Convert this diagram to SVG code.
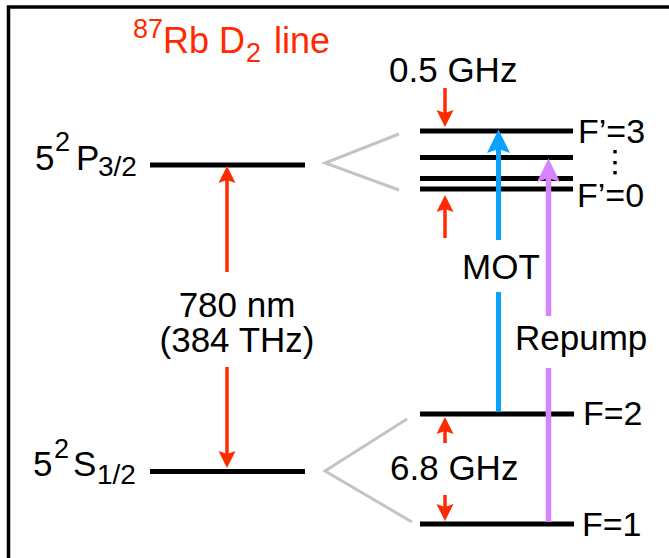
<svg xmlns="http://www.w3.org/2000/svg" width="669" height="558" viewBox="0 0 669 558">
<style>
text{font-family:"Liberation Sans",Arial,Helvetica,sans-serif;font-size:35px;fill:#000}
.red{fill:#FF2A00}
.lvl{stroke:#000;stroke-width:5;fill:none}
.gray{stroke:#C4C4C4;stroke-width:3;fill:none}
.ra{stroke:#FF2A00;stroke-width:3.5;fill:none}
.ba{stroke:#0AA2FF;stroke-width:5;fill:none}
.pa{stroke:#D784FF;stroke-width:5.5;fill:none}
.s{font-size:27px}
.sb{font-size:28px}
</style>
<defs>
<marker id="mr" markerUnits="userSpaceOnUse" viewBox="-1 -10 22 20" refX="3" refY="0" markerWidth="22" markerHeight="20" orient="auto" overflow="visible">
<path d="M0,-8.5 L17,0 L0,8.5 L3,0 Z" fill="#FF2A00"/>
</marker>
<marker id="mb" markerUnits="userSpaceOnUse" viewBox="-1 -13 28 26" refX="4" refY="0" markerWidth="28" markerHeight="26" orient="auto" overflow="visible">
<path d="M0,-11.5 L23.5,0 L0,11.5 L4,0 Z" fill="#0AA2FF"/>
</marker>
<marker id="mp" markerUnits="userSpaceOnUse" viewBox="-1 -13 28 26" refX="4" refY="0" markerWidth="28" markerHeight="26" orient="auto" overflow="visible">
<path d="M0,-11.5 L23.5,0 L0,11.5 L4,0 Z" fill="#D784FF"/>
</marker>
</defs>
<rect x="8.5" y="7" width="720" height="620" fill="none" stroke="#000" stroke-width="3.5"/>
<g id="title">
<text class="red" style="font-size:36px"><tspan x="133" y="38" class="s red">87</tspan><tspan x="163" y="53">Rb D</tspan><tspan x="246" y="62" class="s red">2</tspan><tspan x="274" y="53">line</tspan></text>
</g>
<g id="P32">
<line class="lvl" x1="150" y1="165" x2="305" y2="165"/>
<text><tspan x="35" y="170">5</tspan><tspan x="55" y="151" class="s">2</tspan><tspan x="76" y="170">P</tspan><tspan x="98" y="176" class="sb">3/2</tspan></text>
</g>
<g id="S12">
<line class="lvl" x1="150" y1="471.5" x2="305" y2="471.5"/>
<text><tspan x="33" y="476">5</tspan><tspan x="54" y="458" class="s">2</tspan><tspan x="73" y="476">S</tspan><tspan x="97" y="484" class="sb">1/2</tspan></text>
</g>
<g id="split">
<polyline class="gray" points="399,134 325,163 399,190"/>
<polyline class="gray" points="407,419 325,471 412,522"/>
</g>
<g id="Fp3">
<line class="lvl" x1="420" y1="131" x2="573" y2="131"/>
<text x="578" y="143" style="font-size:34px">F’=3</text>
</g>
<g id="Fp2"><line class="lvl" x1="420" y1="157.5" x2="573" y2="157.5"/></g>
<g id="Fp1"><line class="lvl" x1="420" y1="178.5" x2="573" y2="178.5"/></g>
<g id="Fp0">
<line class="lvl" x1="420" y1="189" x2="573" y2="189"/>
<text x="577" y="207" style="font-size:34px">F’=0</text>
</g>
<g id="dots">
<rect x="613.3" y="150" width="3.4" height="3.4"/>
<rect x="613.3" y="161" width="3.4" height="3.4"/>
<rect x="613.3" y="171" width="3.4" height="3.4"/>
</g>
<g id="F2">
<line class="lvl" x1="420" y1="414" x2="574" y2="414"/>
<text x="583" y="425" style="font-size:34px">F=2</text>
</g>
<g id="F1">
<line class="lvl" x1="420" y1="524" x2="574" y2="524"/>
<text x="582" y="536" style="font-size:34px">F=1</text>
</g>
<g id="connectors">
<line class="ra" x1="227" y1="272" x2="227" y2="180" marker-end="url(#mr)"/>
<line class="ra" x1="227" y1="367" x2="227" y2="454" marker-end="url(#mr)"/>
<line class="ra" x1="445" y1="88" x2="445" y2="113" marker-end="url(#mr)"/>
<line class="ra" x1="445" y1="238" x2="445" y2="209" marker-end="url(#mr)"/>
<line class="ra" x1="445" y1="443" x2="445" y2="431" marker-end="url(#mr)"/>
<line class="ra" x1="445" y1="495" x2="445" y2="507" marker-end="url(#mr)"/>
<line class="ba" x1="498.5" y1="240" x2="498.5" y2="149" marker-end="url(#mb)"/>
<line class="ba" x1="498.5" y1="292" x2="498.5" y2="412"/>
<line class="pa" x1="548.5" y1="316" x2="548.5" y2="178" marker-end="url(#mp)"/>
<line class="pa" x1="548.5" y1="368" x2="548.5" y2="522"/>
</g>
<g id="labels">
<text text-anchor="middle"><tspan x="237" y="317">780 nm</tspan><tspan x="237" y="352">(384 THz)</tspan></text>
<text x="389" y="82">0.5 GHz</text>
<text x="390" y="480">6.8 GHz</text>
<text x="462" y="279">MOT</text>
<text x="515" y="350">Repump</text>
</g>
</svg>
